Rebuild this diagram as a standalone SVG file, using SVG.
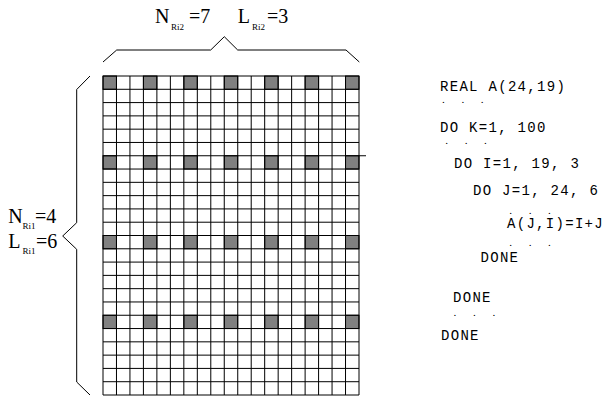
<svg xmlns="http://www.w3.org/2000/svg" width="606" height="404" viewBox="0 0 606 404">
<style>
.lbl{font-family:"Liberation Serif","Times New Roman",serif;font-size:20px;fill:#000}
.sub{font-family:"Liberation Serif","Times New Roman",serif;font-size:9px;fill:#000}
.code{font-family:"Liberation Mono","Courier New",monospace;font-size:14px;letter-spacing:1.3px;fill:#000}
.dots{font-family:"Liberation Mono","Courier New",monospace;font-size:8px;font-weight:bold;letter-spacing:4.9px;fill:#000}
.brace{fill:none;stroke:#000;stroke-width:1}
.grid{fill:none;stroke:#000;stroke-width:1}
.hit{fill:#808080;stroke:#000;stroke-width:1}
</style>
<rect width="606" height="404" fill="#fff"/>
<g id="array-grid">
<g id="shaded">
<rect class="hit" x="103" y="76" width="13.47" height="13.29"/>
<rect class="hit" x="143.42" y="76" width="13.47" height="13.29"/>
<rect class="hit" x="183.84" y="76" width="13.47" height="13.29"/>
<rect class="hit" x="224.26" y="76" width="13.47" height="13.29"/>
<rect class="hit" x="264.68" y="76" width="13.47" height="13.29"/>
<rect class="hit" x="305.11" y="76" width="13.47" height="13.29"/>
<rect class="hit" x="345.53" y="76" width="13.47" height="13.29"/>
<rect class="hit" x="103" y="155.75" width="13.47" height="13.29"/>
<rect class="hit" x="143.42" y="155.75" width="13.47" height="13.29"/>
<rect class="hit" x="183.84" y="155.75" width="13.47" height="13.29"/>
<rect class="hit" x="224.26" y="155.75" width="13.47" height="13.29"/>
<rect class="hit" x="264.68" y="155.75" width="13.47" height="13.29"/>
<rect class="hit" x="305.11" y="155.75" width="13.47" height="13.29"/>
<rect class="hit" x="345.53" y="155.75" width="13.47" height="13.29"/>
<rect class="hit" x="103" y="235.5" width="13.47" height="13.29"/>
<rect class="hit" x="143.42" y="235.5" width="13.47" height="13.29"/>
<rect class="hit" x="183.84" y="235.5" width="13.47" height="13.29"/>
<rect class="hit" x="224.26" y="235.5" width="13.47" height="13.29"/>
<rect class="hit" x="264.68" y="235.5" width="13.47" height="13.29"/>
<rect class="hit" x="305.11" y="235.5" width="13.47" height="13.29"/>
<rect class="hit" x="345.53" y="235.5" width="13.47" height="13.29"/>
<rect class="hit" x="103" y="315.25" width="13.47" height="13.29"/>
<rect class="hit" x="143.42" y="315.25" width="13.47" height="13.29"/>
<rect class="hit" x="183.84" y="315.25" width="13.47" height="13.29"/>
<rect class="hit" x="224.26" y="315.25" width="13.47" height="13.29"/>
<rect class="hit" x="264.68" y="315.25" width="13.47" height="13.29"/>
<rect class="hit" x="305.11" y="315.25" width="13.47" height="13.29"/>
<rect class="hit" x="345.53" y="315.25" width="13.47" height="13.29"/>
</g>
<path class="grid" d="M103,76V395M116.47,76V395M129.95,76V395M143.42,76V395M156.89,76V395M170.37,76V395M183.84,76V395M197.32,76V395M210.79,76V395M224.26,76V395M237.74,76V395M251.21,76V395M264.68,76V395M278.16,76V395M291.63,76V395M305.11,76V395M318.58,76V395M332.05,76V395M345.53,76V395M359,76V395
M103,76H359M103,89.29H359M103,102.58H359M103,115.88H359M103,129.17H359M103,142.46H359M103,155.75H366M103,169.04H359M103,182.33H359M103,195.63H359M103,208.92H359M103,222.21H359M103,235.5H359M103,248.79H359M103,262.08H359M103,275.38H359M103,288.67H359M103,301.96H359M103,315.25H359M103,328.54H359M103,341.83H359M103,355.13H359M103,368.42H359M103,381.71H359M103,395H359"/>
</g>
<g id="top-brace">
<path class="brace" d="M103,62L116.7,50L210.7,50L224.3,36.7L237.7,50L346,50L359.3,62"/>
<text class="lbl" x="155" y="23">N</text><text class="sub" x="171" y="30">Ri2</text><text class="lbl" x="189" y="23">=7</text>
<text class="lbl" x="237.7" y="23">L</text><text class="sub" x="252" y="30">Ri2</text><text class="lbl" x="267" y="23">=3</text>
</g>
<g id="left-brace">
<path class="brace" d="M90,76L76.7,89.5L76.7,222.7L62.7,236L76.7,249.3L76.7,382L90,395"/>
<text class="lbl" x="8.3" y="223.3">N</text><text class="sub" x="22.5" y="228.7">Ri1</text><text class="lbl" x="35" y="223.3">=4</text>
<text class="lbl" x="8.3" y="248.3">L</text><text class="sub" x="22.5" y="253.7">Ri1</text><text class="lbl" x="36" y="248.3">=6</text>
</g>
<g id="code">
<text class="code" x="440" y="90.5">REAL A(24,19)</text>
<text class="dots" x="441" y="102.5">. . .</text>
<text class="code" x="440" y="132.3">DO K=1, 100</text>
<text class="dots" x="444.3" y="144">. . .</text>
<text class="code" x="454" y="168.3">DO I=1, 19, 3</text>
<text class="code" x="473" y="195">DO J=1, 24, 6</text>
<text class="dots" x="508.3" y="213.5">. . .</text>
<text class="code" x="507" y="228">A(J,I)=I+J</text>
<text class="dots" x="508.3" y="246">. . .</text>
<text class="code" x="480.5" y="261.7">DONE</text>
<text class="code" x="453" y="301.7">DONE</text>
<text class="dots" x="452.6" y="316">. . .</text>
<text class="code" x="441" y="340">DONE</text>
</g>
</svg>
